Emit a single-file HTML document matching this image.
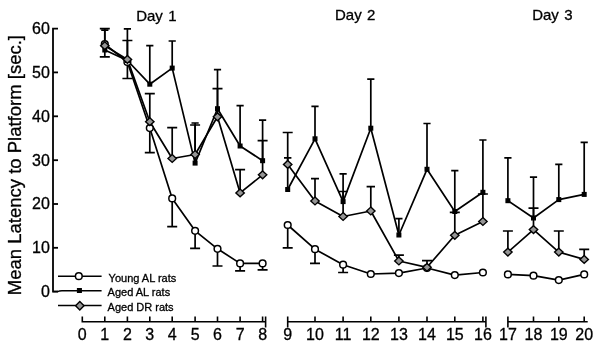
<!DOCTYPE html><html><head><meta charset="utf-8"><style>html,body{margin:0;padding:0;background:#fff;}svg{display:block;will-change:transform;}text{font-family:"Liberation Sans",sans-serif;fill:#000;stroke:#000;stroke-width:0.3px;}</style></head><body>
<svg width="600" height="349" viewBox="0 0 600 349">
<rect width="600" height="349" fill="#fff"/>
<g stroke="#000" stroke-width="1.8" fill="none">
<path d="M58 28.6H53V291.7H58"/>
<path d="M53 247.8H58"/>
<path d="M53 204.0H58"/>
<path d="M53 160.2H58"/>
<path d="M53 116.3H58"/>
<path d="M53 72.4H58"/>
</g>
<g font-size="16" text-anchor="end">
<text x="49.8" y="297.1">0</text>
<text x="49.8" y="253.2">10</text>
<text x="49.8" y="209.4">20</text>
<text x="49.8" y="165.6">30</text>
<text x="49.8" y="121.7">40</text>
<text x="49.8" y="77.8">50</text>
<text x="49.8" y="34.0">60</text>
</g>
<text transform="translate(21,295.2) rotate(-90)" font-size="18.5">Mean Latency to Platform [sec.]</text>
<g stroke="#000" stroke-width="1.6" fill="none">
<path d="M82.3 316.5V321.8H265.6"/>
<path d="M104.8 316.5V321.8"/>
<path d="M127.4 316.5V321.8"/>
<path d="M149.8 316.5V321.8"/>
<path d="M172.2 316.5V321.8"/>
<path d="M195.1 316.5V321.8"/>
<path d="M217.5 316.5V321.8"/>
<path d="M240.1 316.5V321.8"/>
<path d="M262.6 316.5V321.8"/>
<path d="M265.6 316.5V327.5"/>
<path d="M287.7 316.5V327.5M287.7 321.8H485.9"/>
<path d="M315.0 316.5V321.8"/>
<path d="M343.1 316.5V321.8"/>
<path d="M370.8 316.5V321.8"/>
<path d="M398.9 316.5V321.8"/>
<path d="M427.0 316.5V321.8"/>
<path d="M454.8 316.5V321.8"/>
<path d="M482.9 316.5V321.8"/>
<path d="M485.9 316.5V327.5"/>
<path d="M507.9 316.5V327.5M507.9 321.8H587.7"/>
<path d="M533.5 316.5V321.8"/>
<path d="M558.8 316.5V321.8"/>
<path d="M584.2 316.5V321.8"/>
</g>
<g font-size="16" text-anchor="middle">
<text x="82.3" y="339.8">0</text>
<text x="104.8" y="339.8">1</text>
<text x="127.4" y="339.8">2</text>
<text x="149.8" y="339.8">3</text>
<text x="172.2" y="339.8">4</text>
<text x="195.1" y="339.8">5</text>
<text x="217.5" y="339.8">6</text>
<text x="240.1" y="339.8">7</text>
<text x="262.6" y="339.8">8</text>
<text x="287.7" y="339.8">9</text>
<text x="315.0" y="339.8">10</text>
<text x="343.1" y="339.8">11</text>
<text x="370.8" y="339.8">12</text>
<text x="398.9" y="339.8">13</text>
<text x="427.0" y="339.8">14</text>
<text x="454.8" y="339.8">15</text>
<text x="482.9" y="339.8">16</text>
<text x="507.9" y="339.8">17</text>
<text x="533.5" y="339.8">18</text>
<text x="558.8" y="339.8">19</text>
<text x="584.2" y="339.8">20</text>
</g>
<g font-size="15" word-spacing="1.2">
<text x="136.2" y="21.2">Day 1</text>
<text x="335" y="20.2">Day 2</text>
<text x="532.2" y="20.2">Day 3</text>
</g>
<g stroke="#000" stroke-width="1.7" fill="none" stroke-linejoin="round">
<polyline points="104.8,44.1 127.4,62.0 149.8,128.1 172.2,198.4 195.1,230.8 217.5,248.8 240.1,263.4 262.6,263.4"/>
<polyline points="104.8,50.0 127.4,60.5 149.8,84.2 172.2,68.1 195.1,163.1 217.5,108.7 240.1,146.0 262.6,160.7"/>
<polyline points="104.8,45.7 127.4,59.4 149.8,121.7 172.2,158.5 195.1,154.5 217.5,116.8 240.1,192.9 262.6,174.8"/>
<polyline points="287.7,225.0 315.0,249.2 343.1,264.7 370.8,274.0 398.9,273.1 427.0,268.0 454.8,275.1 482.9,272.5"/>
<polyline points="287.7,189.5 315.0,138.8 343.1,201.6 370.8,128.2 398.9,235.0 427.0,169.3 454.8,211.5 482.9,192.3"/>
<polyline points="287.7,164.4 315.0,201.0 343.1,216.5 370.8,211.0 398.9,261.0 427.0,267.3 454.8,235.3 482.9,221.5"/>
<polyline points="507.9,274.4 533.5,275.7 558.8,280.1 584.2,274.4"/>
<polyline points="507.9,200.7 533.5,218.0 558.8,199.6 584.2,194.4"/>
<polyline points="507.9,252.1 533.5,229.6 558.8,252.1 584.2,259.4"/>
</g>
<g stroke="#000" stroke-width="1.7" fill="none">
<path d="M104.8 44.1V56.8M99.8 56.8H109.8"/>
<path d="M127.4 62.0V78.5M122.4 78.5H132.4"/>
<path d="M149.8 128.1V152.6M144.8 152.6H154.8"/>
<path d="M172.2 198.4V226.7M167.2 226.7H177.2"/>
<path d="M195.1 230.8V248.3M190.1 248.3H200.1"/>
<path d="M217.5 248.8V266.0M212.5 266.0H222.5"/>
<path d="M240.1 263.4V270.9M235.1 270.9H245.1"/>
<path d="M262.6 263.4V269.9M257.6 269.9H267.6"/>
<path d="M287.7 225.0V247.9M282.7 247.9H292.7"/>
<path d="M315.0 249.2V263.4M310.0 263.4H320.0"/>
<path d="M343.1 264.7V272.5M338.1 272.5H348.1"/>
<path d="M104.8 50.0V30.2M101.2 30.2H108.4"/>
<path d="M127.4 60.5V28.8M123.8 28.8H131.0"/>
<path d="M149.8 84.2V45.6M146.2 45.6H153.4"/>
<path d="M172.2 68.1V41.0M168.6 41.0H175.8"/>
<path d="M195.1 163.1V123.0M191.5 123.0H198.7"/>
<path d="M217.5 108.7V69.6M213.9 69.6H221.1"/>
<path d="M240.1 146.0V105.7M236.5 105.7H243.7"/>
<path d="M262.6 160.7V120.2M259.0 120.2H266.2"/>
<path d="M287.7 189.5V132.5M282.7 132.5H292.7"/>
<path d="M315.0 138.8V106.4M311.4 106.4H318.6"/>
<path d="M343.1 201.6V173.8M339.5 173.8H346.7"/>
<path d="M370.8 128.2V79.2M367.2 79.2H374.4"/>
<path d="M398.9 235.0V218.7M395.3 218.7H402.5"/>
<path d="M427.0 169.3V123.5M423.4 123.5H430.6"/>
<path d="M454.8 211.5V170.7M451.2 170.7H458.4"/>
<path d="M482.9 192.3V140.0M479.3 140.0H486.5"/>
<path d="M507.9 200.7V157.8M504.3 157.8H511.5"/>
<path d="M533.5 218.0V177.2M529.9 177.2H537.1"/>
<path d="M558.8 199.6V164.4M555.2 164.4H562.4"/>
<path d="M584.2 194.4V142.3M580.6 142.3H587.8"/>
<path d="M104.8 45.7V28.6M99.8 28.6H109.8"/>
<path d="M127.4 59.4V40.5M122.4 40.5H132.4"/>
<path d="M149.8 121.7V93.6M144.8 93.6H154.8"/>
<path d="M172.2 158.5V127.7M167.2 127.7H177.2"/>
<path d="M195.1 154.5V125.0M190.1 125.0H200.1"/>
<path d="M217.5 116.8V88.7M212.5 88.7H222.5"/>
<path d="M240.1 192.9V169.7M235.1 169.7H245.1"/>
<path d="M262.6 174.8V140.7M257.6 140.7H267.6"/>
<path d="M287.7 164.4V157.9M284.0 157.9H291.4"/>
<path d="M315.0 201.0V178.7M311.0 178.7H319.0"/>
<path d="M343.1 216.5V191.5M338.6 191.5H347.6"/>
<path d="M370.8 211.0V186.7M366.6 186.7H375.0"/>
<path d="M398.9 261.0V255.2M393.9 255.2H403.9"/>
<path d="M427.0 267.3V260.6M422.0 260.6H432.0"/>
<path d="M454.8 235.3V212.3M449.8 212.3H459.8"/>
<path d="M482.9 221.5V194.0M477.9 194.0H487.9"/>
<path d="M507.9 252.1V231.0M502.9 231.0H512.9"/>
<path d="M533.5 229.6V208.2M528.5 208.2H538.5"/>
<path d="M558.8 252.1V231.0M553.8 231.0H563.8"/>
<path d="M584.2 259.4V249.4M579.2 249.4H589.2"/>
</g>
<g stroke="#000" stroke-width="1.4">
<circle cx="104.8" cy="44.1" r="3.35" fill="#fff" stroke-width="1.5"/>
<circle cx="127.4" cy="62.0" r="3.35" fill="#fff" stroke-width="1.5"/>
<circle cx="149.8" cy="128.1" r="3.35" fill="#fff" stroke-width="1.5"/>
<circle cx="172.2" cy="198.4" r="3.35" fill="#fff" stroke-width="1.5"/>
<circle cx="195.1" cy="230.8" r="3.35" fill="#fff" stroke-width="1.5"/>
<circle cx="217.5" cy="248.8" r="3.35" fill="#fff" stroke-width="1.5"/>
<circle cx="240.1" cy="263.4" r="3.35" fill="#fff" stroke-width="1.5"/>
<circle cx="262.6" cy="263.4" r="3.35" fill="#fff" stroke-width="1.5"/>
<circle cx="287.7" cy="225.0" r="3.35" fill="#fff" stroke-width="1.5"/>
<circle cx="315.0" cy="249.2" r="3.35" fill="#fff" stroke-width="1.5"/>
<circle cx="343.1" cy="264.7" r="3.35" fill="#fff" stroke-width="1.5"/>
<circle cx="370.8" cy="274.0" r="3.35" fill="#fff" stroke-width="1.5"/>
<circle cx="398.9" cy="273.1" r="3.35" fill="#fff" stroke-width="1.5"/>
<circle cx="427.0" cy="268.0" r="3.35" fill="#fff" stroke-width="1.5"/>
<circle cx="454.8" cy="275.1" r="3.35" fill="#fff" stroke-width="1.5"/>
<circle cx="482.9" cy="272.5" r="3.35" fill="#fff" stroke-width="1.5"/>
<circle cx="507.9" cy="274.4" r="3.35" fill="#fff" stroke-width="1.5"/>
<circle cx="533.5" cy="275.7" r="3.35" fill="#fff" stroke-width="1.5"/>
<circle cx="558.8" cy="280.1" r="3.35" fill="#fff" stroke-width="1.5"/>
<circle cx="584.2" cy="274.4" r="3.35" fill="#fff" stroke-width="1.5"/>
<rect x="103.0" y="48.2" width="3.6" height="3.6" fill="#000"/>
<rect x="125.6" y="58.7" width="3.6" height="3.6" fill="#000"/>
<rect x="148.0" y="82.4" width="3.6" height="3.6" fill="#000"/>
<rect x="170.4" y="66.3" width="3.6" height="3.6" fill="#000"/>
<rect x="193.3" y="161.3" width="3.6" height="3.6" fill="#000"/>
<rect x="215.7" y="106.9" width="3.6" height="3.6" fill="#000"/>
<rect x="238.3" y="144.2" width="3.6" height="3.6" fill="#000"/>
<rect x="260.8" y="158.9" width="3.6" height="3.6" fill="#000"/>
<rect x="285.9" y="187.7" width="3.6" height="3.6" fill="#000"/>
<rect x="313.2" y="137.0" width="3.6" height="3.6" fill="#000"/>
<rect x="341.3" y="199.8" width="3.6" height="3.6" fill="#000"/>
<rect x="369.0" y="126.4" width="3.6" height="3.6" fill="#000"/>
<rect x="397.1" y="233.2" width="3.6" height="3.6" fill="#000"/>
<rect x="425.2" y="167.5" width="3.6" height="3.6" fill="#000"/>
<rect x="453.0" y="209.7" width="3.6" height="3.6" fill="#000"/>
<rect x="481.1" y="190.5" width="3.6" height="3.6" fill="#000"/>
<rect x="506.1" y="198.9" width="3.6" height="3.6" fill="#000"/>
<rect x="531.7" y="216.2" width="3.6" height="3.6" fill="#000"/>
<rect x="557.0" y="197.8" width="3.6" height="3.6" fill="#000"/>
<rect x="582.4" y="192.6" width="3.6" height="3.6" fill="#000"/>
<path d="M104.8 41.8L109.0 45.7L104.8 49.6L100.6 45.7Z" fill="#959595"/>
<path d="M127.4 55.5L131.6 59.4L127.4 63.3L123.2 59.4Z" fill="#959595"/>
<path d="M149.8 117.8L154.0 121.7L149.8 125.6L145.6 121.7Z" fill="#959595"/>
<path d="M172.2 154.6L176.4 158.5L172.2 162.4L168.0 158.5Z" fill="#959595"/>
<path d="M195.1 150.6L199.3 154.5L195.1 158.4L190.9 154.5Z" fill="#959595"/>
<path d="M217.5 112.9L221.7 116.8L217.5 120.7L213.3 116.8Z" fill="#959595"/>
<path d="M240.1 189.0L244.3 192.9L240.1 196.8L235.9 192.9Z" fill="#959595"/>
<path d="M262.6 170.9L266.8 174.8L262.6 178.7L258.4 174.8Z" fill="#959595"/>
<path d="M287.7 160.5L291.9 164.4L287.7 168.3L283.5 164.4Z" fill="#959595"/>
<path d="M315.0 197.1L319.2 201.0L315.0 204.9L310.8 201.0Z" fill="#959595"/>
<path d="M343.1 212.6L347.3 216.5L343.1 220.4L338.9 216.5Z" fill="#959595"/>
<path d="M370.8 207.1L375.0 211.0L370.8 214.9L366.6 211.0Z" fill="#959595"/>
<path d="M398.9 257.1L403.1 261.0L398.9 264.9L394.7 261.0Z" fill="#959595"/>
<path d="M427.0 263.4L431.2 267.3L427.0 271.2L422.8 267.3Z" fill="#959595"/>
<path d="M454.8 231.4L459.0 235.3L454.8 239.2L450.6 235.3Z" fill="#959595"/>
<path d="M482.9 217.6L487.1 221.5L482.9 225.4L478.7 221.5Z" fill="#959595"/>
<path d="M507.9 248.2L512.1 252.1L507.9 256.0L503.7 252.1Z" fill="#959595"/>
<path d="M533.5 225.7L537.7 229.6L533.5 233.5L529.3 229.6Z" fill="#959595"/>
<path d="M558.8 248.2L563.0 252.1L558.8 256.0L554.6 252.1Z" fill="#959595"/>
<path d="M584.2 255.5L588.4 259.4L584.2 263.3L580.0 259.4Z" fill="#959595"/>
</g>
<g stroke="#000" stroke-width="1.5" fill="none">
<path d="M58 276.2H101.6"/>
<path d="M53 291.5H58Q59 290.7 62 290.7H101.6"/>
<path d="M58 305.5H101.6"/>
</g>
<circle cx="78.8" cy="276.2" r="3.35" fill="#fff" stroke="#000" stroke-width="1.5"/>
<rect x="77.4" y="288.5" width="4" height="4" fill="#000" stroke="#000" stroke-width="1"/>
<path d="M79.8 301.6L84 305.8L79.8 310L75.6 305.8Z" fill="#959595" stroke="#000" stroke-width="1.4"/>
<g font-size="11">
<text x="108.6" y="281.9">Young AL rats</text>
<text x="107.6" y="296.3">Aged AL rats</text>
<text x="107.6" y="310.6">Aged DR rats</text>
</g>
</svg></body></html>
